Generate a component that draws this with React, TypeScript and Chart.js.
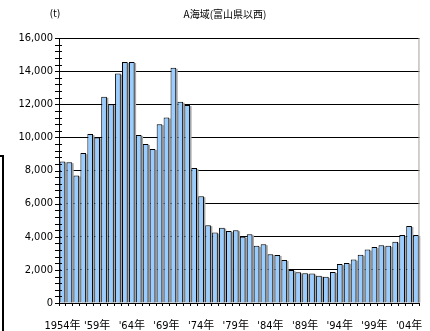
import React, { useEffect, useRef } from 'react';
import { Chart, registerables } from 'chart.js';
Chart.register(...registerables);

const years = [
  '1954年', "'55年", "'56年", "'57年", "'58年", "'59年", "'60年", "'61年", "'62年", "'63年",
  "'64年", "'65年", "'66年", "'67年", "'68年", "'69年", "'70年", "'71年", "'72年", "'73年",
  "'74年", "'75年", "'76年", "'77年", "'78年", "'79年", "'80年", "'81年", "'82年", "'83年",
  "'84年", "'85年", "'86年", "'87年", "'88年", "'89年", "'90年", "'91年", "'92年", "'93年",
  "'94年", "'95年", "'96年", "'97年", "'98年", "'99年", "'00年", "'01年", "'02年", "'03年",
  "'04年", "'05年",
];

const catches = [
  8550, 8500, 7700, 9050, 10200, 10000, 12450, 12000, 13850, 14550,
  14550, 10150, 9600, 9300, 10800, 11200, 14200, 12150, 11950, 8150,
  6450, 4700, 4250, 4550, 4350, 4400, 4000, 4150, 3450, 3550,
  2950, 2900, 2600, 2000, 1850, 1800, 1780, 1650, 1580, 1870,
  2350, 2420, 2620, 2920, 3230, 3380, 3480, 3450, 3700, 4100,
  4650, 4100,
];

const yMax = 16000;
const yStep = 2000;
const yMinorStep = 400;
const title = 'A海域(富山県以西)';
const unitLabel = '(t)';

const tickFont = "'Liberation Sans Narrow', 'DejaVu Sans Condensed', 'Noto Sans CJK JP', sans-serif";
const cjkFont = "'Noto Sans CJK JP', sans-serif";

const decorPlugin = {
  id: 'decor',
  beforeDatasetsDraw(chart: any) {
    const ctx = chart.ctx;
    const meta = chart.getDatasetMeta(0);
    ctx.save();
    ctx.fillStyle = '#a8a8a8';
    meta.data.forEach((el: any) => {
      const w = el.width;
      ctx.fillRect(el.x - w / 2 + 1.5, el.y + 1, w, el.base - el.y - 1);
    });
    ctx.restore();
  },
  afterDraw(chart: any) {
    const ctx = chart.ctx;
    const { left, right, top, bottom } = chart.chartArea;
    const ys = chart.scales.y;
    ctx.save();
    ctx.strokeStyle = '#a0a0a0';
    ctx.lineWidth = 1;
    ctx.beginPath();
    ctx.moveTo(right - 0.5, top);
    ctx.lineTo(right - 0.5, bottom);
    ctx.stroke();
    ctx.strokeStyle = '#000';
    ctx.beginPath();
    for (let v = 0; v <= yMax; v += yMinorStep) {
      const py = Math.round(ys.getPixelForValue(v)) + 0.5;
      ctx.moveTo(left - 4, py);
      ctx.lineTo(left + 3, py);
    }
    ctx.stroke();
    ctx.fillStyle = '#000';
    ctx.textBaseline = 'middle';
    ctx.textAlign = 'center';
    ctx.font = `10px ${cjkFont}`;
    ctx.fillText(title, 225, 14);
    ctx.font = `10px ${tickFont}`;
    ctx.fillText(unitLabel, 55, 14);
    ctx.restore();
  },
};

export default function App() {
  const ref = useRef<HTMLCanvasElement>(null);
  useEffect(() => {
    const chart = new Chart(ref.current as HTMLCanvasElement, {
      type: 'bar',
      data: {
        labels: years,
        datasets: [
          {
            data: catches,
            backgroundColor: '#99CCFF',
            borderColor: '#000',
            borderWidth: 1,
            barPercentage: 0.82,
            categoryPercentage: 1,
          },
        ],
      },
      options: {
        responsive: false,
        animation: false,
        devicePixelRatio: 1,
        layout: { padding: { top: 38, right: 1, left: 0, bottom: 0 } },
        plugins: { legend: { display: false }, tooltip: { enabled: false }, title: { display: false } },
        scales: {
          x: {
            grid: { display: true, drawOnChartArea: false, drawTicks: true, tickLength: 3, color: '#000', offset: true },
            border: { color: '#000' },
            ticks: {
              autoSkip: false,
              maxRotation: 0,
              minRotation: 0,
              padding: 14,
              color: '#000',
              font: { family: tickFont, size: 11 },
              callback: (_v: any, i: number) => (i % 5 === 0 ? years[i] : ''),
            },
            afterFit: (s: any) => { s.height = 28; },
          },
          y: {
            min: 0,
            max: yMax,
            ticks: {
              stepSize: yStep,
              padding: 6,
              color: '#000',
              font: { family: tickFont, size: 11 },
              callback: (v: any) => Number(v).toLocaleString('en-US'),
            },
            grid: { color: '#000', drawTicks: false },
            border: { color: '#000' },
            afterFit: (s: any) => { s.width = 59; },
          },
        },
      },
      plugins: [decorPlugin],
    });
    return () => chart.destroy();
  }, []);
  return (
    <div style={{ position: 'absolute', left: 0, top: 0, width: 430, height: 331, overflow: 'hidden', background: '#fff' }}>
      <canvas ref={ref} width={430} height={331} style={{ position: 'absolute', left: 0, top: 0 }} />
      <div style={{ position: 'absolute', left: -11, top: 155, width: 11, height: 200, border: '2px solid #000' }} />
    </div>
  );
}
